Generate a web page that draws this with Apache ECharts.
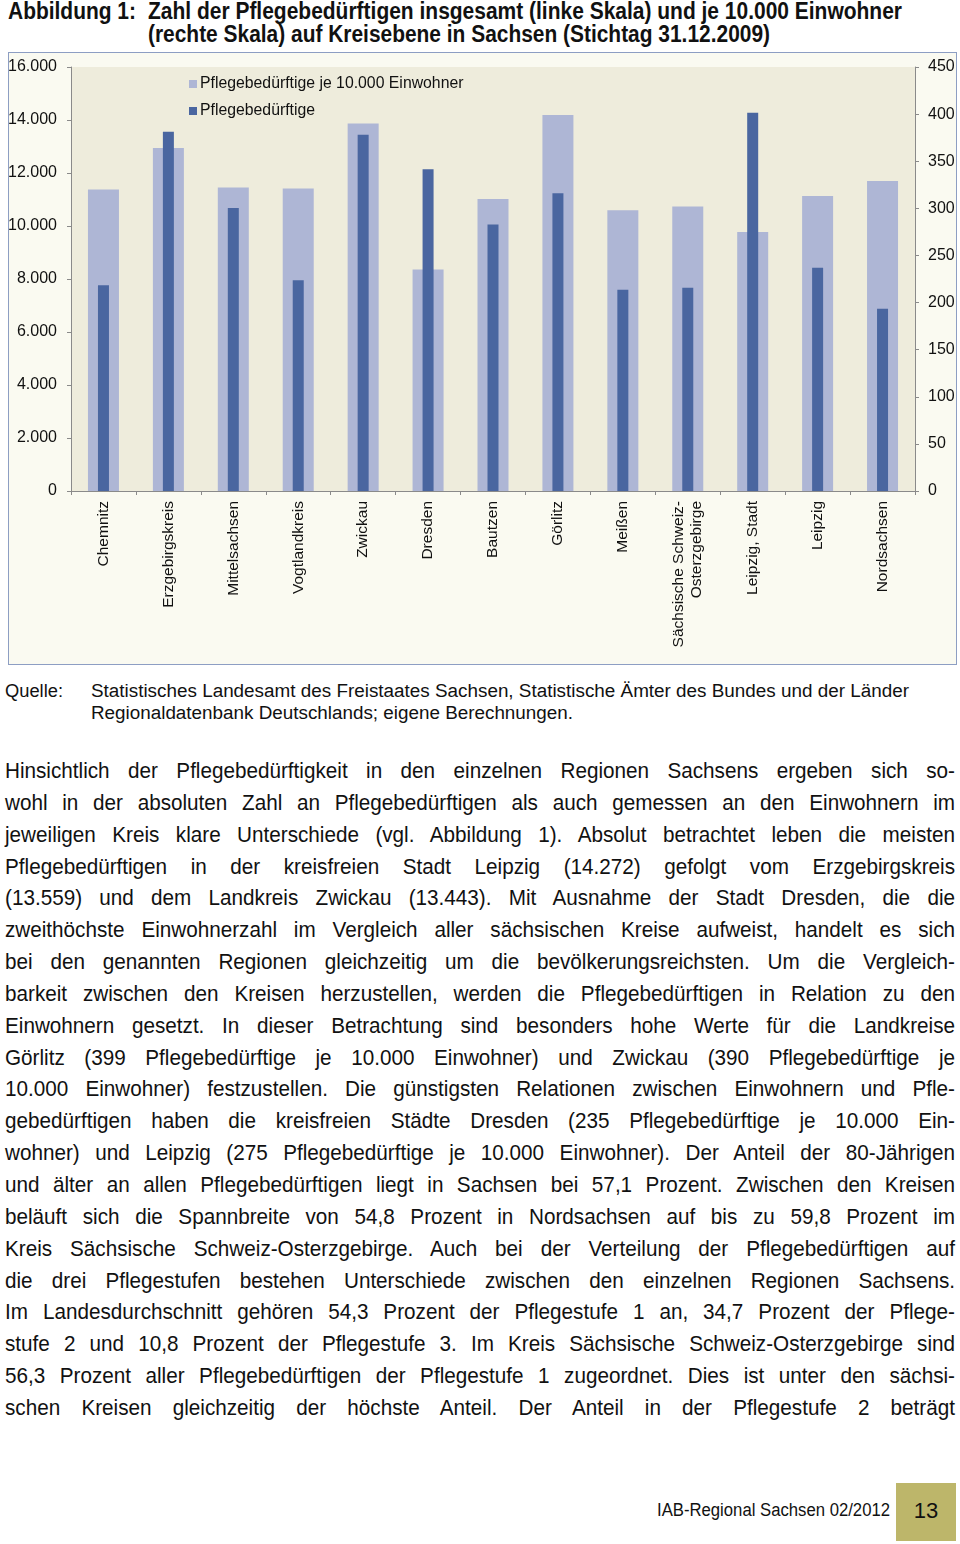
<!DOCTYPE html>
<html>
<head>
<meta charset="utf-8">
<script src="https://cdn.jsdelivr.net/npm/echarts@6/dist/echarts.min.js"></script>
<style>
  body { margin: 0; background: #fff; font-family: "Liberation Sans", Arial, sans-serif; color: #111; }
  #page { position: relative; width: 960px; height: 1544px; overflow: hidden; }
  .abs { position: absolute; white-space: nowrap; }
  .title { font-weight: bold; font-size: 23px; line-height: 24px; }
  .src { font-size: 18px; line-height: 22px; }
  #box { position: absolute; left: 8px; top: 52px; width: 949px; height: 613px; box-sizing: border-box;
         border: 1px solid #8d9ec3; background: #fafaf1; }
  #chart { width: 947px; height: 611px; }
  #para { position: absolute; left: 5px; top: 755px; }
  #para div { font-size: 22px; line-height: 31.85px; height: 31.85px; white-space: nowrap;
              text-align: justify; text-align-last: justify; transform-origin: left center; }
  #pnum { position: absolute; left: 896px; top: 1483px; width: 60px; height: 58px; background: #bdb66a;
          font-size: 22px; line-height: 56px; text-align: center; }
</style>
</head>
<body>
<div id="page">
  <div class="abs title" style="left:8px; top:-1px;"><span id="t0">Abbildung 1:</span></div>
  <div class="abs title" style="left:148px; top:-1px;"><span id="t1">Zahl der Pflegebedürftigen insgesamt (linke Skala) und je 10.000 Einwohner</span></div>
  <div class="abs title" style="left:148px; top:22px;"><span id="t2">(rechte Skala) auf Kreisebene in Sachsen (Stichtag 31.12.2009)</span></div>

  <div id="box"><div id="chart"></div></div>

  <div class="abs src" style="left:5px; top:680px;"><span id="s0">Quelle:</span></div>
  <div class="abs src" style="left:91px; top:680px;"><span id="s1">Statistisches Landesamt des Freistaates Sachsen, Statistische Ämter des Bundes und der Länder</span></div>
  <div class="abs src" style="left:91px; top:702px;"><span id="s2">Regionaldatenbank Deutschlands; eigene Berechnungen.</span></div>

  <div id="para"></div>

  <div class="abs src" style="left:657px; top:1499px;"><span id="f1">IAB-Regional Sachsen 02/2012</span></div>
  <div id="pnum">13</div>
</div>
<script>
// Kreise in Sachsen
var categories = ['Chemnitz', 'Erzgebirgskreis', 'Mittelsachsen', 'Vogtlandkreis', 'Zwickau', 'Dresden',
  'Bautzen', 'Görlitz', 'Meißen', 'Sächsische Schweiz-\nOsterzgebirge', 'Leipzig, Stadt', 'Leipzig', 'Nordsachsen'];
// Pflegebedürftige je 10.000 Einwohner (rechte Skala)
var perTenThousand = [320, 364, 322, 321, 390, 235, 310, 399, 298, 302, 275, 313, 329];
// Pflegebedürftige insgesamt (linke Skala)
var total = [7760, 13559, 10680, 7950, 13443, 12140, 10060, 11240, 7590, 7670, 14272, 8420, 6880];

var paraLines = [
  'Hinsichtlich der Pflegebedürftigkeit in den einzelnen Regionen Sachsens ergeben sich so-',
  'wohl in der absoluten Zahl an Pflegebedürftigen als auch gemessen an den Einwohnern im',
  'jeweiligen Kreis klare Unterschiede (vgl. Abbildung 1). Absolut betrachtet leben die meisten',
  'Pflegebedürftigen in der kreisfreien Stadt Leipzig (14.272) gefolgt vom Erzgebirgskreis',
  '(13.559) und dem Landkreis Zwickau (13.443). Mit Ausnahme der Stadt Dresden, die die',
  'zweithöchste Einwohnerzahl im Vergleich aller sächsischen Kreise aufweist, handelt es sich',
  'bei den genannten Regionen gleichzeitig um die bevölkerungsreichsten. Um die Vergleich-',
  'barkeit zwischen den Kreisen herzustellen, werden die Pflegebedürftigen in Relation zu den',
  'Einwohnern gesetzt. In dieser Betrachtung sind besonders hohe Werte für die Landkreise',
  'Görlitz (399 Pflegebedürftige je 10.000 Einwohner) und Zwickau (390 Pflegebedürftige je',
  '10.000 Einwohner) festzustellen. Die günstigsten Relationen zwischen Einwohnern und Pfle-',
  'gebedürftigen haben die kreisfreien Städte Dresden (235 Pflegebedürftige je 10.000 Ein-',
  'wohner) und Leipzig (275 Pflegebedürftige je 10.000 Einwohner). Der Anteil der 80-Jährigen',
  'und älter an allen Pflegebedürftigen liegt in Sachsen bei 57,1 Prozent. Zwischen den Kreisen',
  'beläuft sich die Spannbreite von 54,8 Prozent in Nordsachsen auf bis zu 59,8 Prozent im',
  'Kreis Sächsische Schweiz-Osterzgebirge. Auch bei der Verteilung der Pflegebedürftigen auf',
  'die drei Pflegestufen bestehen Unterschiede zwischen den einzelnen Regionen Sachsens.',
  'Im Landesdurchschnitt gehören 54,3 Prozent der Pflegestufe 1 an, 34,7 Prozent der Pflege-',
  'stufe 2 und 10,8 Prozent der Pflegestufe 3. Im Kreis Sächsische Schweiz-Osterzgebirge sind',
  '56,3 Prozent aller Pflegebedürftigen der Pflegestufe 1 zugeordnet. Dies ist unter den sächsi-',
  'schen Kreisen gleichzeitig der höchste Anteil. Der Anteil in der Pflegestufe 2 beträgt'
];

// each printed line is justified to the full column width (950px)
var para = document.getElementById('para');
var probe = document.createElement('span');
probe.style.cssText = 'position:absolute;visibility:hidden;white-space:nowrap;font-size:22px;';
document.body.appendChild(probe);
paraLines.forEach(function (t) {
  probe.textContent = t;
  var nat = probe.getBoundingClientRect().width;
  var s = Math.min(0.94, 944 / nat);
  var d = document.createElement('div');
  d.textContent = t;
  d.style.width = (950 / s) + 'px';
  d.style.transform = 'scaleX(' + s + ')';
  para.appendChild(d);
});
probe.remove();

// squeeze a text span to the width it has in the print
function fit(id, w) {
  var el = document.getElementById(id);
  el.style.display = 'inline-block';
  var nat = el.getBoundingClientRect().width;
  el.style.transformOrigin = 'left center';
  el.style.transform = 'scaleX(' + (w / nat) + ')';
}
fit('t0', 128);
fit('t1', 754);
fit('t2', 622);
fit('s0', 58);
fit('s1', 818);
fit('s2', 482);
fit('f1', 233);

function thousands(v) {
  return String(v).replace(/\B(?=(\d{3})+(?!\d))/g, '.');
}

var labelFont = { fontFamily: 'Liberation Sans, Arial, sans-serif', fontSize: 16, color: '#111' };

var chart = echarts.init(document.getElementById('chart'));
var option = {
  animation: false,
  backgroundColor: '#fafaf1',
  grid: {
    left: 62, right: 41, top: 14, bottom: 173,
    outerBoundsMode: 'none',
    show: true, backgroundColor: '#eeecdc', borderWidth: 0
  },
  legend: {
    orient: 'vertical',
    left: 180,
    top: 23,
    padding: 0,
    itemWidth: 8,
    itemHeight: 8,
    itemGap: 11,
    icon: 'rect',
    textStyle: { fontFamily: 'Liberation Sans, Arial, sans-serif', fontSize: 15.8, color: '#111', lineHeight: 16,
                 padding: [0, 0, 0, -2] },
    data: ['Pflegebedürftige je 10.000 Einwohner', 'Pflegebedürftige']
  },
  xAxis: [
    {
      type: 'category',
      data: categories,
      axisLine: { lineStyle: { color: '#8a8a8a', width: 1 } },
      axisTick: { show: true, length: 4, lineStyle: { color: '#8a8a8a' } },
      axisLabel: Object.assign({ interval: 0, rotate: 90, margin: 10, lineHeight: 18 }, labelFont, { fontSize: 15.5 })
    },
    {
      type: 'category',
      data: categories,
      show: false
    }
  ],
  yAxis: [
    {
      type: 'value',
      position: 'left',
      min: 0, max: 16000, interval: 2000,
      splitLine: { show: false },
      axisLine: { show: true, lineStyle: { color: '#8a8a8a' } },
      axisTick: { show: true, length: 4, lineStyle: { color: '#8a8a8a' } },
      axisLabel: Object.assign({ margin: 14, formatter: thousands }, labelFont)
    },
    {
      type: 'value',
      position: 'right',
      min: 0, max: 450, interval: 50,
      splitLine: { show: false },
      axisLine: { show: true, lineStyle: { color: '#8a8a8a' } },
      axisTick: { show: true, length: 4, lineStyle: { color: '#8a8a8a' } },
      axisLabel: Object.assign({ margin: 13 }, labelFont)
    }
  ],
  series: [
    {
      name: 'Pflegebedürftige je 10.000 Einwohner',
      type: 'bar',
      xAxisIndex: 0,
      yAxisIndex: 1,
      barWidth: 31,
      itemStyle: { color: '#aeb6d5' },
      data: perTenThousand,
      z: 2
    },
    {
      name: 'Pflegebedürftige',
      type: 'bar',
      xAxisIndex: 1,
      yAxisIndex: 0,
      barWidth: 11,
      itemStyle: { color: '#4a66a0' },
      data: total,
      z: 3
    }
  ]
};
chart.setOption(option);
</script>
</body>
</html>
